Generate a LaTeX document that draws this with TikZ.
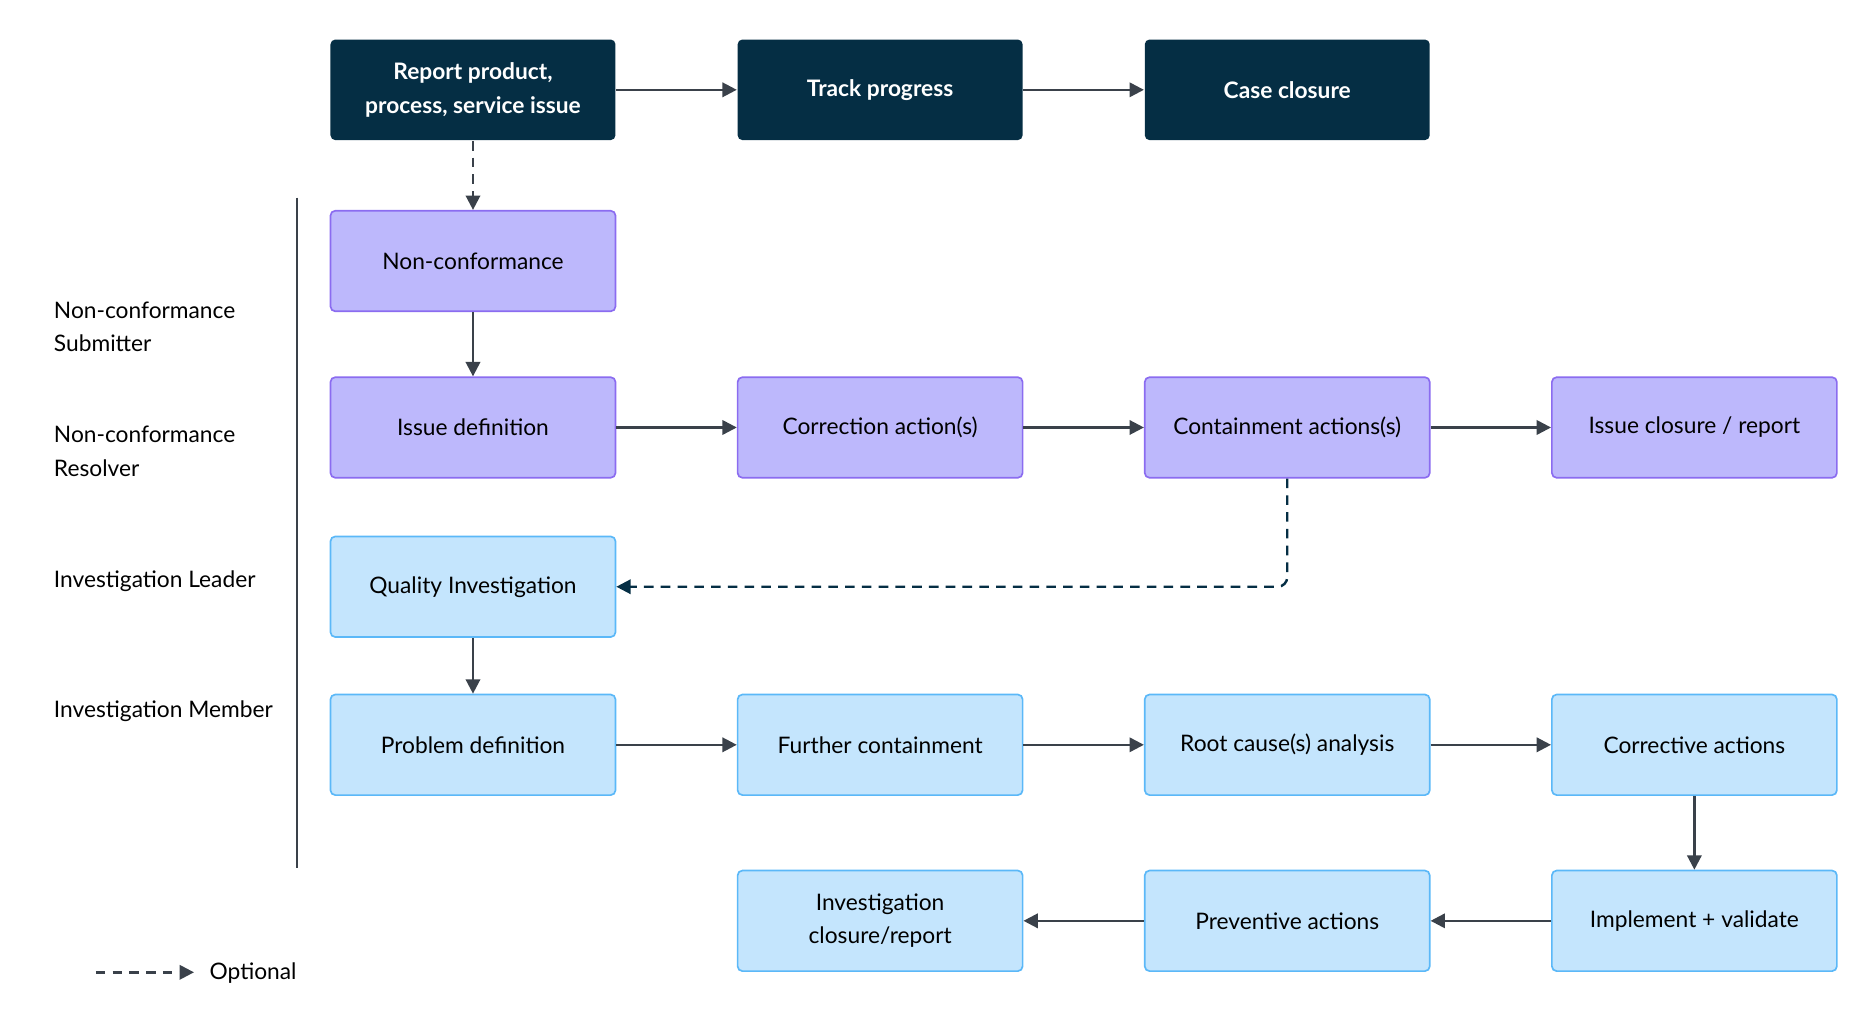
\documentclass[tikz,border=0pt]{standalone}
\usepackage{fontspec}
\setmainfont{Lato}
\usetikzlibrary{arrows.meta}
\definecolor{hdr}{HTML}{052E44}
\definecolor{pfill}{HTML}{BDB8FC}
\definecolor{pline}{HTML}{8B6CF0}
\definecolor{bfill}{HTML}{C4E5FD}
\definecolor{bline}{HTML}{5BB8F8}
\definecolor{arr}{HTML}{3A414A}
\tikzset{
 box/.style={minimum width=119pt,minimum height=42pt,rounded corners=2pt,align=center,font=\fontsize{9.5}{14}\selectfont,line width=0.7pt},
 hbox/.style={box,fill=hdr,text=white,font=\fontsize{9.5}{14}\selectfont\bfseries},
 pbox/.style={box,draw=pline,fill=pfill},
 bbox/.style={box,draw=bline,fill=bfill},
 conn/.style={draw=arr,line width=1pt,-{Triangle[length=6pt,width=6pt]}},
 opt/.style={conn,dashed,dash pattern=on 4pt off 3pt},
 lane/.style={anchor=west,align=left,font=\fontsize{9.5}{14}\selectfont}
}
\begin{document}
\begin{tikzpicture}[x=0.5pt,y=-0.5pt]
\useasboundingbox (0,0) rectangle (1560,856);
\node[hbox] (r) at (395,75) {Report product,\\process, service issue};
\node[hbox] (t) at (735,75) {Track progress};
\node[hbox] (c) at (1075,75) {Case closure};
\node[pbox] (nc) at (395,218) {Non-conformance};
\node[pbox] (id) at (395,357) {Issue definition};
\node[pbox] (ca) at (735,357) {Correction action(s)};
\node[pbox] (cn) at (1075,357) {Containment actions(s)};
\node[pbox] (ic) at (1415,357) {Issue closure / report};
\node[bbox] (qi) at (395,490) {Quality Investigation};
\node[bbox] (pd) at (395,622) {Problem definition};
\node[bbox] (fc) at (735,622) {Further containment};
\node[bbox] (rc) at (1075,622) {Root cause(s) analysis};
\node[bbox] (co) at (1415,622) {Corrective actions};
\node[bbox] (iv) at (1415,769) {Implement + validate};
\node[bbox] (pa) at (1075,769) {Preventive actions};
\node[bbox] (ir) at (735,769) {Investigation\\closure/report};
\node[lane] (l1) at (38,273) {Non-conformance\\Submitter};
\node[lane] (l2) at (38,377) {Non-conformance\\Resolver};
\node[lane] (l3) at (38,485) {Investigation Leader};
\node[lane] (l4) at (38,594) {Investigation Member};
\draw[arr,line width=0.8pt] (248,165) -- (248,725);
\draw[conn] (r) -- (t); \draw[conn] (t) -- (c);
\draw[opt] (r) -- (nc);
\draw[conn] (nc) -- (id);
\draw[conn] (id) -- (ca); \draw[conn] (ca) -- (cn); \draw[conn] (cn) -- (ic);
\draw[opt,draw=hdr,rounded corners=4pt] (cn.south) -- (1075,490) -- (qi.east);
\draw[conn] (qi) -- (pd);
\draw[conn] (pd) -- (fc); \draw[conn] (fc) -- (rc); \draw[conn] (rc) -- (co);
\draw[conn] (co) -- (iv); \draw[conn] (iv) -- (pa); \draw[conn] (pa) -- (ir);
\coordinate (la) at (80,812); \coordinate (lb) at (162,812);
\draw[opt] (la) -- (lb);
\node[anchor=west,font=\fontsize{9.5}{14}\selectfont] (lo) at (168,813) {Optional};
\end{tikzpicture}
\end{document}
